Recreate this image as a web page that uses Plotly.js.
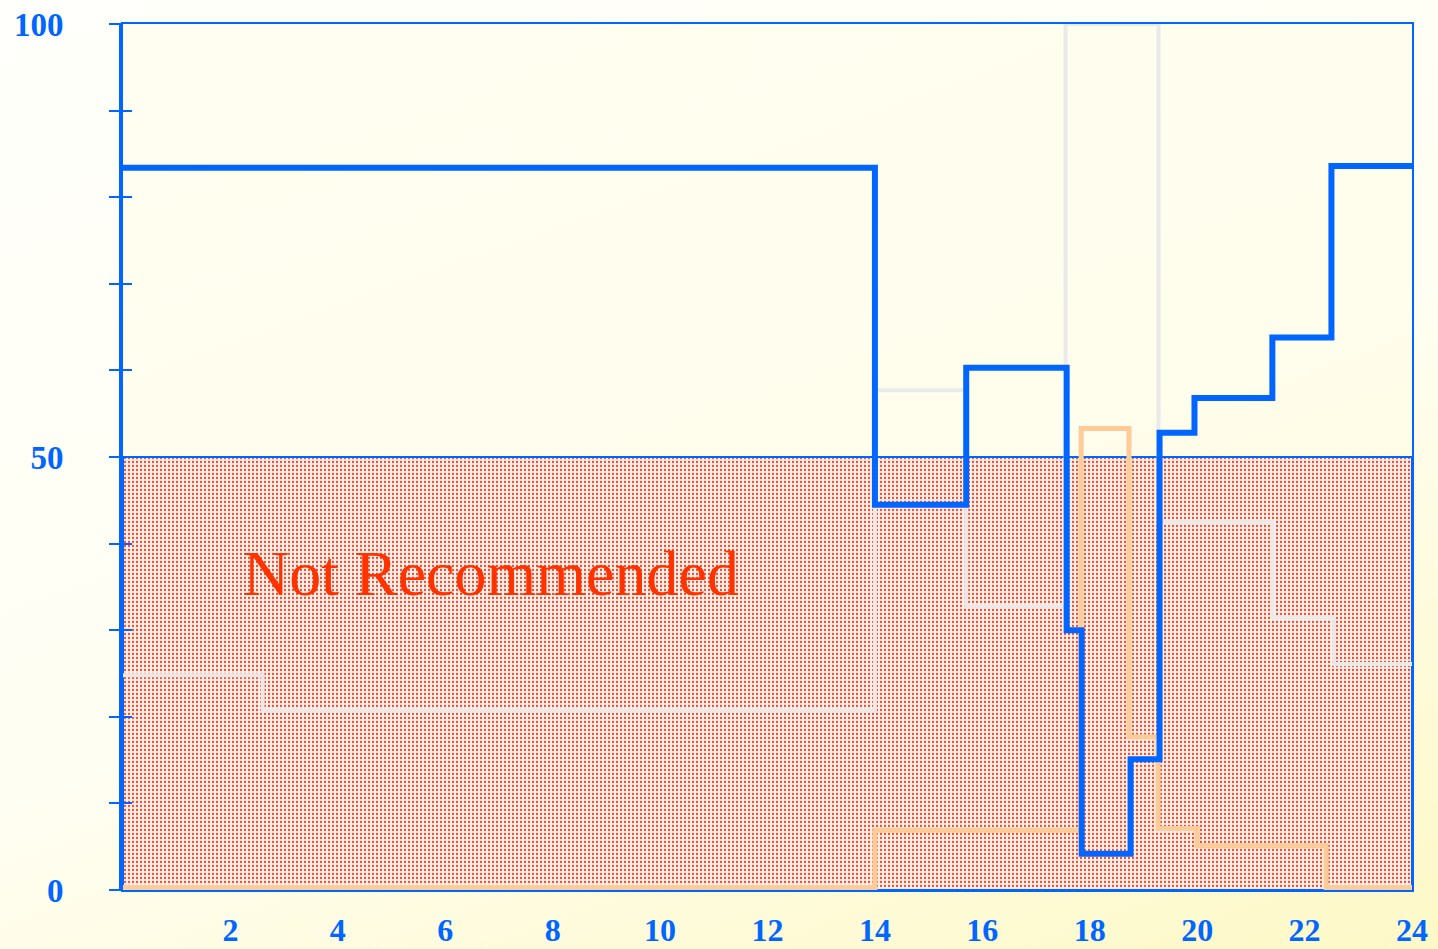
<!DOCTYPE html>
<html>
<head>
<meta charset="utf-8">
<script src="https://cdn.plot.ly/plotly-3.0.1.min.js"></script>
<style>
  html, body { margin: 0; padding: 0; }
  body {
    width: 1438px; height: 949px; overflow: hidden;
    background: linear-gradient(160deg, #fffffb 0%, #fffef2 55%, #fdf8c6 100%);
  }
  #chart { width: 1438px; height: 949px; }
</style>
</head>
<body>
<div id="chart"></div>
<script>
// ---- data (hour of day vs. index) ----
const xTickVals = [2, 4, 6, 8, 10, 12, 14, 16, 18, 20, 22, 24];
const xTickText = ['2', '4', '6', '8', '10', '12', '14', '16', '18', '20', '22', '24'];
const yTickVals = [0, 10, 20, 30, 40, 50, 60, 70, 80, 90, 100];
const yTickText = ['0', '', '', '', '', '50', '', '', '', '', '100'];

const zoneStart = 0;
const zoneEnd = 24;
const zoneLimit = 50;
const zoneLabel = 'Not Recommended';

const blueX = [0, 14, 15.7, 17.57, 17.85, 18.76, 19.3, 19.95, 21.4, 22.5, 24];
const blueY = [83.4, 44.5, 60.3, 30.0, 4.2, 15.1, 52.8, 56.8, 63.8, 83.6, 83.6];

const grayX = [0, 2.6, 14, 15.7, 17.55, 19.28, 21.4, 22.55, 24];
const grayY = [24.8, 20.7, 57.7, 32.7, 100, 42.5, 31.5, 26.1, 26.1];

const orangeX = [0, 14, 17.84, 18.73, 19.27, 20.0, 22.4, 24];
const orangeY = [0.3, 6.9, 53.3, 17.7, 7.1, 5.1, 0.3, 0.3];

// ---- styles ----
const BLUE = '#0066ff';
const serif = "'Liberation Serif', 'Times New Roman', Times, serif";

const traces = [
  {
    type: 'bar',
    x: [(zoneStart + zoneEnd) / 2],
    y: [zoneLimit],
    width: [zoneEnd - zoneStart],
    marker: {
      color: '#ff3a1a',
      line: { color: BLUE, width: 2 },
      pattern: {
        shape: '.',
        fgcolor: '#ff4224',
        bgcolor: '#fff2ec',
        size: 4,
        solidity: 0.25,
        fillmode: 'replace'
      }
    },
    hoverinfo: 'skip',
    showlegend: false,
    xaxis: 'x', yaxis: 'y'
  },
  {
    type: 'scatter', mode: 'lines',
    x: grayX, y: grayY,
    line: { shape: 'hv', color: '#eaeaea', width: 4 },
    hoverinfo: 'skip', showlegend: false,
    xaxis: 'x', yaxis: 'y2'
  },
  {
    type: 'scatter', mode: 'lines',
    x: orangeX, y: orangeY,
    line: { shape: 'hv', color: '#ffcc99', width: 5 },
    hoverinfo: 'skip', showlegend: false,
    xaxis: 'x', yaxis: 'y2'
  },
  {
    type: 'scatter', mode: 'lines',
    x: blueX, y: blueY,
    line: { shape: 'hv', color: BLUE, width: 6 },
    hoverinfo: 'skip', showlegend: false,
    xaxis: 'x', yaxis: 'y3'
  }
];

const yRange = [0, 100];

const layout = {
  width: 1438,
  height: 949,
  margin: { l: 123, r: 26, t: 24, b: 59, autoexpand: false },
  paper_bgcolor: 'rgba(0,0,0,0)',
  plot_bgcolor: 'rgba(255,253,228,0.45)',
  showlegend: false,
  xaxis: {
    range: [0, 24],
    tickvals: xTickVals,
    ticktext: xTickText,
    ticks: '',
    showgrid: false,
    zeroline: false,
    showline: true,
    linecolor: BLUE,
    linewidth: 2,
    mirror: true,
    ticklabelstandoff: 11,
    tickfont: { family: serif, size: 32, color: BLUE, weight: 'bold' },
    fixedrange: true
  },
  yaxis: {
    range: yRange,
    tickvals: yTickVals,
    ticktext: yTickText,
    ticks: 'outside',
    ticklen: 12,
    tickwidth: 2,
    tickcolor: BLUE,
    showgrid: false,
    zeroline: false,
    showline: true,
    linecolor: BLUE,
    linewidth: 2,
    mirror: true,
    ticklabelstandoff: 39,
    tickfont: { family: serif, size: 33, color: BLUE, weight: 'bold' },
    fixedrange: true
  },
  yaxis2: {
    overlaying: 'y',
    side: 'left',
    range: yRange,
    tickvals: yTickVals,
    ticks: 'inside',
    ticklen: 9,
    tickwidth: 2,
    tickcolor: BLUE,
    showticklabels: false,
    showgrid: false,
    zeroline: false,
    showline: true,
    linecolor: BLUE,
    linewidth: 4,
    fixedrange: true
  },
  yaxis3: {
    overlaying: 'y',
    side: 'left',
    range: yRange,
    showticklabels: false,
    ticks: '',
    showgrid: false,
    zeroline: false,
    showline: false,
    fixedrange: true
  },
  annotations: [
    {
      xref: 'x', yref: 'y',
      x: 2.2, y: 36.6,
      xanchor: 'left', yanchor: 'middle',
      text: zoneLabel,
      showarrow: false,
      font: { family: serif, size: 64, color: '#ff3300' }
    }
  ],
  bargap: 0
};

Plotly.newPlot('chart', traces, layout, { displayModeBar: false, staticPlot: true });
</script>
</body>
</html>
